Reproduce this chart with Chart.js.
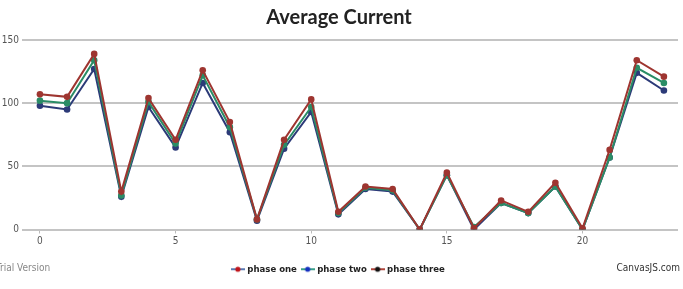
<!DOCTYPE html>
<html>
<head>
<meta charset="utf-8">
<script src="https://cdn.jsdelivr.net/npm/chart.js@4"></script>
<style>
    body { margin: 0; background: #fff; }
    #wrap { width: 683px; height: 289px; position: relative; }
</style>
</head>
<body>
<div id="wrap"><canvas id="currentChart"></canvas></div>
<script>
// x positions (0..23) and the three phase readings
const hours = [0, 1, 2, 3, 4, 5, 6, 7, 8, 9, 10, 11, 12, 13, 14, 15, 16, 17, 18, 19, 20, 21, 22, 23];
const phaseOne = [107, 105, 139, 30, 104, 71, 126, 85, 8, 71, 103, 14, 34, 32, 0, 45, 1, 23, 14, 37, 1, 63, 134, 121];
const phaseTwo = [98, 95, 127, 26, 97, 65, 116, 77, 7, 64, 93, 12, 32, 30, 0, 43, 0, 21, 13, 34, 0, 57, 124, 110];
const phaseThree = [102, 100, 134, 27, 101, 68, 122, 81, 8, 67, 97, 13, 33, 31, 0, 43, 2, 21, 13, 34, 0, 57, 128, 116];
const xTicks = [0, 5, 10, 15, 20];
const yTicks = [0, 50, 100, 150];

const narrowFont = "'Liberation Sans Narrow', 'DejaVu Sans Condensed', sans-serif";

function toPoints(values) {
    return values.map(function(v, i) { return { x: hours[i], y: v }; });
}

// small legend marker: a line segment with a dot in the middle
function legendIcon(lineColor, dotColor) {
    const c = document.createElement('canvas');
    c.width = 14;
    c.height = 8;
    const g = c.getContext('2d');
    g.strokeStyle = lineColor;
    g.lineWidth = 2;
    g.beginPath();
    g.moveTo(0, 4);
    g.lineTo(14, 4);
    g.stroke();
    g.fillStyle = dotColor;
    g.beginPath();
    g.arc(7, 4, 2.6, 0, Math.PI * 2);
    g.fill();
    return c;
}

const icons = [
    legendIcon('#5a78b0', '#c0141a'),
    legendIcon('#3aa08a', '#1530c0'),
    legendIcon('#b0463c', '#111111')
];

// watermark texts in the corners
const cornerText = {
    id: 'cornerText',
    afterDraw: function(chart) {
        const ctx = chart.ctx;
        ctx.save();
        ctx.font = '10px ' + narrowFont;
        ctx.fillStyle = '#888';
        ctx.textBaseline = 'middle';
        ctx.textAlign = 'left';
        ctx.fillText('Trial Version', -4, 268);
        ctx.textAlign = 'right';
        ctx.fillStyle = '#333';
        ctx.fillText('CanvasJS.com', 680, 268);
        ctx.restore();
    }
};

function lineSet(label, values, color, order) {
    return {
        label: label,
        data: toPoints(values),
        borderColor: color,
        backgroundColor: color,
        borderWidth: 2,
        pointRadius: 3.3,
        pointBorderWidth: 0,
        pointBackgroundColor: color,
        pointBorderColor: color,
        tension: 0,
        order: order
    };
}

const ctx = document.getElementById('currentChart').getContext('2d');
new Chart(ctx, {
    type: 'line',
    data: {
        datasets: [
            lineSet('phase one', phaseOne, '#9e3530', 0),
            lineSet('phase two', phaseTwo, '#2c3a78', 2),
            lineSet('phase three', phaseThree, '#2a8c66', 1)
        ]
    },
    options: {
        responsive: true,
        maintainAspectRatio: false,
        animation: false,
        layout: {
            padding: { left: 0, right: 5, top: 0, bottom: 5 }
        },
        scales: {
            x: {
                type: 'linear',
                min: -0.44,
                max: 23.52,
                afterBuildTicks: function(axis) {
                    axis.ticks = xTicks.map(function(v) { return { value: v }; });
                },
                afterFit: function(axis) {
                    axis.height += 9;
                },
                grid: {
                    display: true,
                    drawOnChartArea: false,
                    drawTicks: true,
                    tickLength: 4,
                    color: '#bbb'
                },
                border: { display: false },
                ticks: {
                    color: '#555',
                    padding: 2,
                    maxRotation: 0,
                    font: { family: narrowFont, size: 10 }
                }
            },
            y: {
                min: 0,
                max: 150,
                afterBuildTicks: function(axis) {
                    axis.ticks = yTicks.map(function(v) { return { value: v }; });
                },
                afterFit: function(axis) {
                    axis.width = 28;
                },
                grid: {
                    color: '#c4c4c4',
                    lineWidth: 2,
                    tickLength: 6
                },
                border: { display: false },
                ticks: {
                    color: '#555',
                    padding: 3,
                    font: { family: narrowFont, size: 10 }
                }
            }
        },
        plugins: {
            title: {
                display: true,
                text: 'Average Current',
                color: '#222',
                font: { family: "Lato, sans-serif", size: 20, weight: 'bold' },
                padding: { top: 6, bottom: 10 }
            },
            legend: {
                display: true,
                position: 'bottom',
                labels: {
                    usePointStyle: true,
                    color: '#222',
                    padding: 6,
                    font: { family: narrowFont, size: 9.5, weight: 'bold' },
                    generateLabels: function(chart) {
                        return chart.data.datasets.map(function(ds, i) {
                            return {
                                text: ds.label,
                                pointStyle: icons[i],
                                fontColor: '#222',
                                datasetIndex: i,
                                hidden: false
                            };
                        });
                    }
                }
            },
            tooltip: { enabled: false }
        }
    },
    plugins: [cornerText]
});
</script>
</body>
</html>
